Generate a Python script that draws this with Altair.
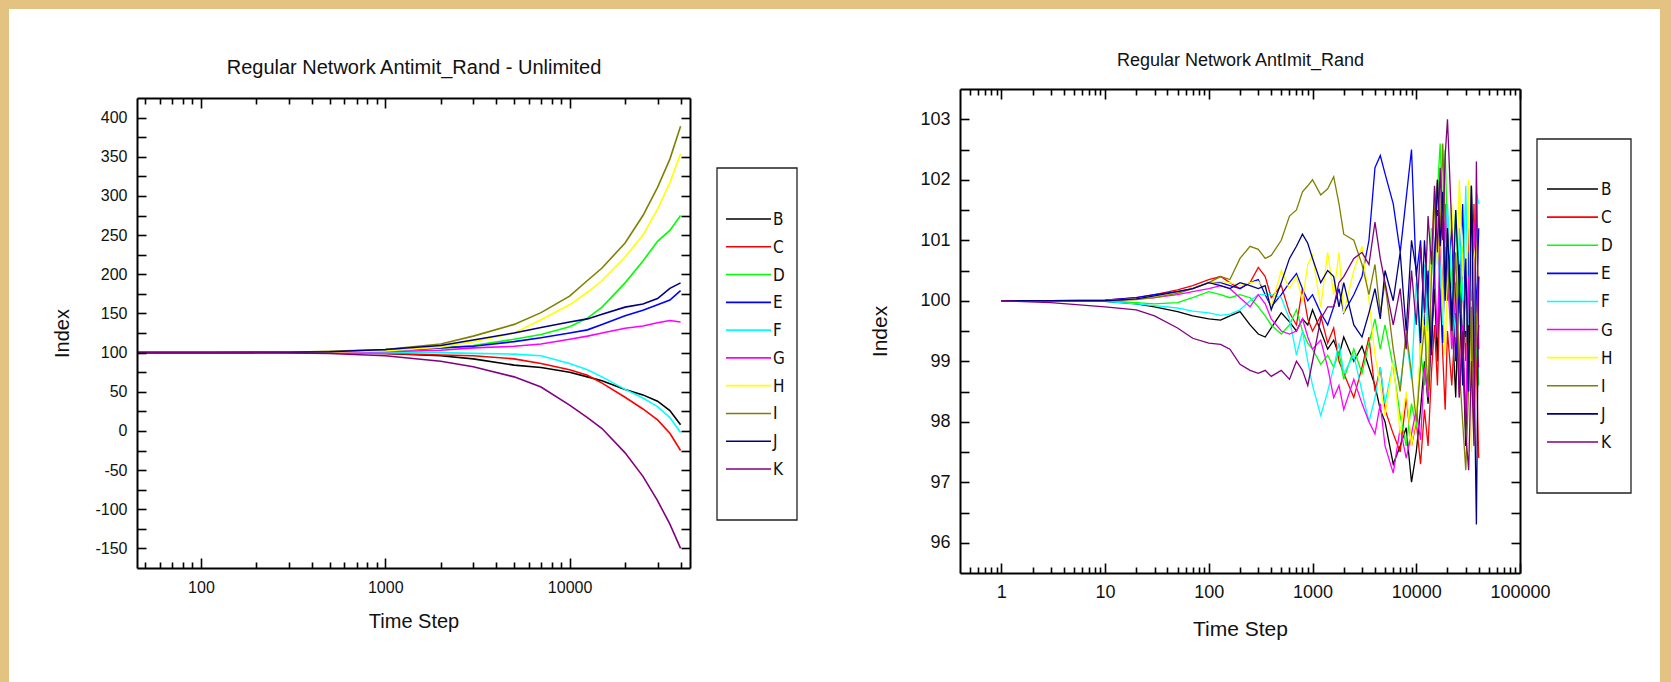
import altair as alt
import pandas as pd

W, H = 1671, 682
SANS = "'Liberation Sans', Arial, sans-serif"
NARROW = "'Liberation Sans Narrow', 'Arial Narrow', 'DejaVu Sans Condensed', sans-serif"

SERIES = ["B", "C", "D", "E", "F", "G", "H", "I", "J", "K"]
COLORS = ["#000000", "#FF0000", "#00FF00", "#0000FF", "#00FFFF",
          "#FF00FF", "#FFFF00", "#808000", "#000080", "#800080"]

LEFT_TITLE = "Regular Network Antimit_Rand - Unlimited"
RIGHT_TITLE = "Regular Network AntImit_Rand"

# ---------------- left panel (Unlimited) ----------------
LEFT_X = [45, 100, 300, 500, 1000, 2000, 3000, 5000, 7000, 10000, 12500,
          15000, 20000, 25000, 30000, 35000, 40000]
LEFT_B = [100, 100, 100, 99.9, 99, 96, 92, 84, 81, 75, 69, 64, 53, 46, 38, 26, 8]
LEFT_C = [100, 100, 100, 99.9, 99, 97, 96, 92, 86, 78, 71, 61, 43, 28, 14, -3, -25]
LEFT_D = [100, 100, 100.2, 100.5, 102, 106, 109, 117, 123, 133, 144, 158, 189, 217, 242, 256, 275]
LEFT_E = [100, 100, 100.3, 100.6, 102, 106, 108, 114, 119, 125, 129, 136, 147, 154, 161, 167, 179]
LEFT_F = [100, 100, 100, 99.9, 100, 100, 99, 98, 96, 86, 78, 69, 53, 42, 31, 17, -2]
LEFT_G = [100, 100, 100.2, 100.4, 101, 103, 106, 108, 111, 117, 121, 125, 131, 134, 138, 141, 139]
LEFT_H = [100, 100, 100.3, 100.7, 102, 107, 114, 125, 142, 161, 177, 192, 222, 250, 283, 317, 354]
LEFT_I = [100, 100, 100.5, 101.5, 104, 111, 121, 136, 151, 172, 192, 208, 240, 275, 311, 347, 389]
LEFT_J = [100, 100, 100.4, 101, 104, 109, 116, 125, 132, 139, 143, 149, 158, 162, 169, 182, 189]
LEFT_K = [100, 100, 99.5, 98.8, 96, 89, 82, 69, 56, 33, 17, 3, -28, -58, -89, -119, -150]

# ---------------- right panel ----------------
RIGHT_X = [1, 3, 10, 20, 30, 50, 70, 100, 130, 160, 200, 250, 300, 350, 400, 500,
           600, 700, 800, 900, 1000, 1200, 1400, 1600, 1800, 2000, 2500, 3000,
           3500, 4000, 4500, 5000, 6000, 7000, 8000, 9000, 10000, 11000, 12000,
           13000, 14000, 15000, 16000, 17000, 18000, 19000, 20000, 22000, 24000,
           26000, 28000, 30000, 32000, 34000, 36000, 38000, 40000]
RIGHT_B = [100, 100, 99.99, 99.95, 99.9, 99.82, 99.75, 99.7, 99.68, 99.75, 99.82, 99.6,
           99.45, 99.4, 99.55, 99.8, 99.65, 99.5, 99.7, 99.6, 99.85, 99.5, 99.2, 99.35,
           99.1, 99.4, 99.0, 99.25, 98.9, 98.6, 98.2, 98.0, 97.3, 97.6, 97.9, 97.0, 97.5,
           98.2, 99.0, 98.3, 99.4, 100.2, 99.0, 100.8, 101.5, 100.3, 101.2, 99.8, 98.4,
           100.6, 99.3, 97.6, 99.8, 101.9, 100.2, 98.8, 99.6]
RIGHT_C = [100, 100, 100.01, 100.05, 100.1, 100.18, 100.25, 100.35, 100.4, 100.3, 100.2,
           100.3, 100.55, 100.4, 100.05, 100.25, 99.8, 99.6, 100.2, 99.7, 99.5, 99.75,
           99.3, 99.55, 99.0, 98.8, 98.4, 98.9, 99.4, 98.5, 98.9, 98.2, 97.8, 97.5, 98.4,
           97.6, 98.0, 97.3, 98.2, 97.6, 98.8, 99.6, 98.6, 100.2, 99.1, 98.2, 99.5, 98.6,
           99.8, 98.9, 100.4, 99.0, 101.2, 100.0, 101.6, 99.0, 97.4]
RIGHT_D = [100, 100, 100, 99.97, 99.95, 99.97, 100.05, 100.15, 100.1, 100.05, 100.1,
           100.05, 99.9, 99.75, 99.6, 99.45, 99.6, 99.85, 99.5, 99.3, 99.2, 98.95, 99.1,
           98.9, 99.15, 98.7, 99.2, 98.8, 99.3, 99.7, 99.2, 99.6, 98.9, 98.1, 97.6, 98.3,
           97.9, 99.2, 98.6, 100.1, 101.2, 100.4, 101.8, 102.6, 101.4, 102.5, 101.0,
           100.2, 101.5, 99.8, 100.9, 99.3, 100.5, 98.9, 97.8, 99.5, 98.6]
RIGHT_E = [100, 100, 100.01, 100.05, 100.1, 100.15, 100.2, 100.3, 100.3, 100.25, 100.2,
           100.3, 100.35, 100.1, 99.9, 100.1, 100.3, 100.45, 100.2, 100.0, 100.1, 99.8,
           99.6, 99.9, 100.2, 99.8, 100.1, 100.4, 101.0, 102.2, 102.4, 102.1, 101.6,
           100.8, 101.7, 102.5, 100.4, 101.0, 99.6, 100.5, 99.2, 100.8, 101.5, 100.1,
           99.3, 100.9, 100.0, 101.3, 99.0, 100.2, 101.6, 99.4, 100.8, 98.6, 101.0,
           99.8, 101.2]
RIGHT_F = [100, 100, 99.99, 99.95, 99.92, 99.88, 99.83, 99.8, 99.76, 99.78, 99.85,
           100.0, 100.1, 100.1, 100.1, 100.05, 99.7, 99.1, 99.5, 99.0, 98.6, 98.1, 98.5,
           98.9, 99.3, 98.8, 99.1, 98.5, 98.0, 98.4, 98.9, 98.3, 99.0, 98.6, 99.4, 98.7,
           100.3, 99.1, 100.6, 99.5, 100.9, 100.2, 101.4, 100.6, 99.6, 101.0, 101.6,
           100.3, 99.4, 101.2, 100.0, 101.9, 99.6, 100.5, 98.9, 101.8, 101.6]
RIGHT_G = [100, 100, 100, 100.03, 100.05, 100.1, 100.15, 100.2, 100.25, 100.2, 100.05,
           99.9, 100.1, 99.95, 99.7, 99.5, 99.45, 99.5, 99.7, 99.4, 99.2, 99.35, 98.9,
           98.4, 98.6, 98.2, 98.7, 98.3, 98.0, 97.8, 98.3, 97.6, 97.15, 97.9, 97.4, 97.8,
           98.2, 97.7, 98.9, 98.4, 99.6, 100.5, 99.4, 101.0, 100.2, 101.6, 100.4, 99.2,
           100.3, 98.4, 99.6, 98.0, 100.4, 99.0, 101.3, 99.4, 98.9]
RIGHT_H = [100, 100, 100, 100.03, 100.07, 100.13, 100.2, 100.3, 100.32, 100.3, 100.25,
           100.3, 100.32, 100.2, 99.9, 100.5, 100.2, 100.4, 100.0, 100.6, 100.75, 99.9,
           100.8, 100.1, 100.8, 99.8, 100.5, 100.9, 100.0, 99.1, 98.6, 98.1, 99.0, 97.8,
           98.5, 97.6, 98.1, 99.2, 100.0, 99.0, 100.9, 101.8, 100.6, 101.4, 100.0, 99.1,
           100.5, 101.6, 99.8, 102.0, 100.6, 99.5, 102.0, 97.5, 100.7, 101.0, 100.2]
RIGHT_I = [100, 100, 100, 100.02, 100.05, 100.12, 100.2, 100.3, 100.4, 100.35, 100.7,
           100.9, 100.85, 100.7, 100.75, 101.0, 101.4, 101.5, 101.8, 101.9, 102.0,
           101.75, 101.85, 102.05, 101.6, 101.1, 101.0, 100.6, 100.1, 100.6, 99.8, 100.3,
           99.2, 98.5, 99.5, 98.8, 98.0, 98.9, 99.6, 98.5, 100.4, 101.5, 102.0, 101.1,
           102.6, 101.3, 100.6, 99.4, 100.8, 98.9, 98.0, 97.2, 98.6, 99.9, 98.0, 99.6,
           100.4]
RIGHT_J = [100, 100, 100, 100.03, 100.08, 100.15, 100.2, 100.3, 100.25, 100.2, 100.3,
           100.25, 100.2, 100.25, 99.85, 100.3, 100.7, 100.9, 101.1, 100.95, 100.7, 100.3,
           100.5, 100.4, 99.9, 100.3, 99.6, 99.4, 99.8, 100.2, 99.7, 100.5, 100.0, 100.8,
           99.5, 101.0, 100.5, 99.3, 101.0, 100.0, 99.1, 100.6, 102.0, 100.9, 101.8,
           100.0, 101.2, 99.5, 101.5, 100.2, 98.6, 100.7, 98.5, 101.9, 99.0, 96.3, 100.4]
RIGHT_K = [100, 99.97, 99.9, 99.85, 99.75, 99.55, 99.38, 99.3, 99.28, 99.2, 98.95,
           98.85, 98.8, 98.85, 98.75, 98.85, 98.7, 99.0, 98.85, 98.6, 99.0, 99.7, 99.9,
           99.9, 100.3, 100.4, 100.7, 100.8, 100.6, 101.3, 100.7, 100.3, 99.6, 100.2,
           99.2, 100.5, 99.6, 100.9, 99.8, 101.4, 100.6, 101.9, 100.8, 102.2, 101.0,
           102.4, 103.0, 101.2, 100.0, 98.4, 99.5, 97.8, 97.2, 99.0, 97.6, 102.3, 99.2]

LEFT_Y = [LEFT_B, LEFT_C, LEFT_D, LEFT_E, LEFT_F, LEFT_G, LEFT_H, LEFT_I, LEFT_J, LEFT_K]
RIGHT_Y = [RIGHT_B, RIGHT_C, RIGHT_D, RIGHT_E, RIGHT_F, RIGHT_G, RIGHT_H, RIGHT_I, RIGHT_J, RIGHT_K]


def long_frame(xs, ys_list):
    rows = []
    for order, (name, ys) in enumerate(zip(SERIES, ys_list)):
        for x, y in zip(xs, ys):
            rows.append({"t": x, "v": y, "series": name, "o": order})
    return pd.DataFrame(rows)


left_df = long_frame(LEFT_X, LEFT_Y)
right_df = long_frame(RIGHT_X, RIGHT_Y)

# ---------------- panel geometry (pixels) ----------------
LX0, LX1, LY0, LY1 = 137, 690, 568, 98
RX0, RX1, RY0, RY1 = 960, 1520, 573, 89
L_XDOM, L_YDOM = [45, 45000], [-175, 425]
R_XDOM, R_YDOM = [0.4, 100000], [95.5, 103.5]

L_XMAJ = [100, 1000, 10000]
L_XMIN = [m * 10 ** e for e in range(1, 5) for m in range(2, 10) if 45 < m * 10 ** e < 45000]
L_YLAB = list(range(-150, 401, 50))
L_YTICK = list(range(-150, 401, 25))

R_XMAJ = [1, 10, 100, 1000, 10000, 100000]
R_XMIN = [round(m * 10.0 ** e, 3) for e in range(-1, 5) for m in range(2, 10) if 0.4 < m * 10.0 ** e < 100000]
R_YLAB = [96, 97, 98, 99, 100, 101, 102, 103]
R_YTICK = [96 + 0.5 * i for i in range(15)]

color_scale = alt.Scale(domain=SERIES, range=COLORS)


def xs(dom, r0, r1):
    return alt.Scale(type="log", domain=dom, range=[r0, r1], nice=False)


def ys(dom, r0, r1):
    return alt.Scale(type="linear", domain=dom, range=[r0, r1], nice=False, zero=False)


def tick_axis(orient, offset, values, size):
    return alt.Axis(orient=orient, offset=offset, values=values, ticks=True, tickSize=size,
                    tickWidth=1.6, tickColor="black", domain=False, labels=False,
                    grid=False, title=None, zindex=2)


def carrier(xdom, ydom, xscale, yscale, xaxis, yaxis):
    df = pd.DataFrame({"x": xdom, "y": ydom})
    return alt.Chart(df).mark_point(opacity=0).encode(
        x=alt.X("x:Q", scale=xscale, axis=xaxis),
        y=alt.Y("y:Q", scale=yscale, axis=yaxis),
    )


def panel(df, xdom, ydom, x0, x1, y0, y1, title, title_size, title_y, xmaj, xmin,
          ylab, ytick, lab_size, lab_pad_x, ttl_size, xtitle_y, ytitle_x, stroke_w):
    cx = (x0 + x1) / 2
    cy = (y0 + y1) / 2
    lines = alt.Chart(df).mark_line(strokeWidth=stroke_w).encode(
        x=alt.X("t:Q", scale=xs(xdom, x0, x1),
                axis=alt.Axis(orient="bottom", offset=y0 - H, values=xmaj, format="d",
                              ticks=False, tickSize=0, domain=True, domainWidth=2,
                              domainColor="black", labelFontSize=lab_size,
                              labelPadding=lab_pad_x, labelFont=SANS, labelColor="#111",
                              labelFlush=False, labelOverlap=False, grid=False,
                              title="Time Step", titleFont=SANS, titleFontSize=ttl_size,
                              titleFontWeight="normal", titleColor="#111",
                              titleX=cx, titleY=xtitle_y, titleBaseline="middle",
                              titleAlign="center", zindex=2)),
        y=alt.Y("v:Q", scale=ys(ydom, y0, y1),
                axis=alt.Axis(orient="left", offset=-x0, values=ylab,
                              labelExpr="'' + datum.value",
                              ticks=False, tickSize=0, domain=True, domainWidth=2,
                              domainColor="black", labelFontSize=lab_size,
                              labelPadding=10, labelFont=SANS, labelColor="#111",
                              labelOverlap=False, grid=False,
                              title="Index", titleFont=SANS, titleFontSize=ttl_size,
                              titleFontWeight="normal", titleColor="#111",
                              titleX=ytitle_x - x0, titleY=cy, titleBaseline="middle",
                              titleAlign="center", titleAngle=270, zindex=2)),
        color=alt.Color("series:N", scale=color_scale, legend=None),
        order=alt.Order("o:Q"),
        detail="series:N",
    )
    frame = carrier(
        xdom, ydom, xs(xdom, x0, x1), ys(ydom, y0, y1),
        alt.Axis(orient="top", offset=-y1, domain=True, domainWidth=2, domainColor="black",
                 ticks=False, labels=False, grid=False, title=title, titleFont=SANS,
                 titleFontSize=title_size, titleFontWeight="normal", titleColor="#111",
                 titleX=cx, titleY=title_y - y1, titleBaseline="alphabetic",
                 titleAlign="center", zindex=2),
        alt.Axis(orient="right", offset=x1 - W, domain=True, domainWidth=2,
                 domainColor="black", ticks=False, labels=False, grid=False, title=None,
                 zindex=2),
    )
    t1 = carrier(xdom, ydom, xs(xdom, x0, x1), ys(ydom, y0, y1),
                 tick_axis("bottom", (y0 - 10) - H, xmaj, 10),
                 tick_axis("left", -(x0 + 9), ytick, 9))
    t2 = carrier(xdom, ydom, xs(xdom, x0, x1), ys(ydom, y0, y1),
                 tick_axis("bottom", (y0 - 6) - H, xmin, 6),
                 tick_axis("right", (x1 - 9) - W, ytick, 9))
    t3 = carrier(xdom, ydom, xs(xdom, x0, x1), ys(ydom, y0, y1),
                 tick_axis("top", -(y1 + 10), xmaj, 10), None)
    t4 = carrier(xdom, ydom, xs(xdom, x0, x1), ys(ydom, y0, y1),
                 tick_axis("top", -(y1 + 6), xmin, 6), None)
    return [lines, frame, t1, t2, t3, t4]


one = pd.DataFrame({"a": [0]})
legend_df = pd.DataFrame({"series": SERIES})

background = alt.Chart(one).mark_rect(color="white").encode(
    x=alt.value(9), x2=alt.value(1660), y=alt.value(9), y2=alt.value(H))


def legend(box, first, last, lx0, lx1, tx):
    bx0, bx1, by0, by1 = box
    frame = alt.Chart(one).mark_rect(fill="white", stroke="#222", strokeWidth=1.3).encode(
        x=alt.value(bx0), x2=alt.value(bx1), y=alt.value(by0), y2=alt.value(by1))
    yenc = alt.Y("series:N", scale=alt.Scale(type="point", domain=SERIES,
                                             range=[first, last], padding=0), axis=None)
    rules = alt.Chart(legend_df).mark_rule(strokeWidth=1.6).encode(
        y=yenc, x=alt.value(lx0), x2=alt.value(lx1),
        color=alt.Color("series:N", scale=color_scale, legend=None))
    labels = alt.Chart(legend_df).mark_text(
        align="left", baseline="middle", font=NARROW, fontSize=17, color="#111", dy=1
    ).encode(y=yenc, x=alt.value(tx), text="series:N")
    return [frame, rules, labels]


layers = [background]
layers += legend((717, 797, 168, 520), 219, 469, 726, 771, 773)
layers += legend((1537, 1631, 139, 493), 189, 442, 1547, 1598, 1601)
layers += panel(left_df, L_XDOM, L_YDOM, LX0, LX1, LY0, LY1, LEFT_TITLE, 20, 73,
                L_XMAJ, L_XMIN, L_YLAB, L_YTICK, 16, 11, 20, 53, 62, 1.6)
layers += panel(right_df, R_XDOM, R_YDOM, RX0, RX1, RY0, RY1, RIGHT_TITLE, 18, 65,
                R_XMAJ, R_XMIN, R_YLAB, R_YTICK, 18, 10, 21, 56, 880, 1.3)

chart = alt.layer(*layers).resolve_scale(
    x="independent", y="independent"
).resolve_axis(
    x="independent", y="independent"
).properties(
    width=W, height=H, padding=0,
    autosize=alt.AutoSizeParams(type="none"),
).configure(
    background="#E4C282",
).configure_view(
    stroke="transparent",
)

chart.save("out.html", embed_options={"renderer": "svg", "actions": False})
